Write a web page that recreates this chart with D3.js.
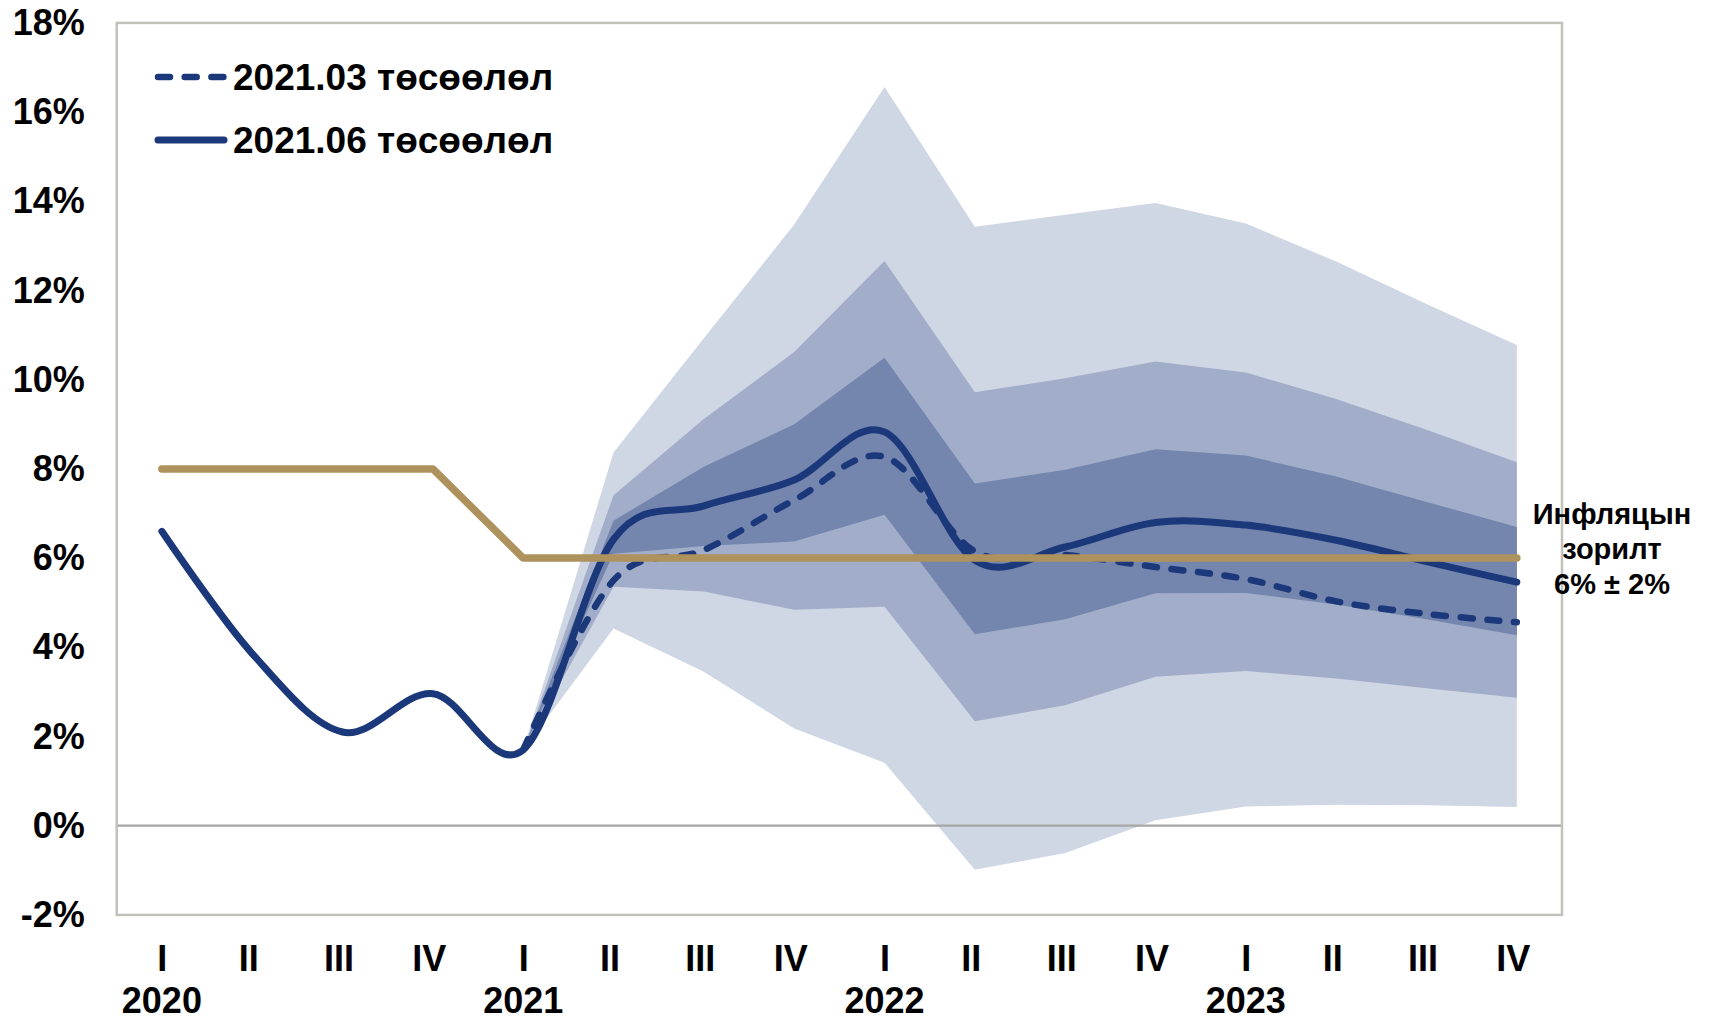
<!DOCTYPE html>
<meta charset="utf-8">
<style>
    body {
        margin: 0;
        background-color: #fff;
    }

    text {
        font-family: "Liberation Sans", Arial, Helvetica, sans-serif;
        font-weight: 700;
        fill: #000;
    }

    .axis text {
        font-size: 36px;
    }

    .xaxis text {
        font-size: 36px;
    }

    .legend text {
        font-size: 37px;
    }

    .note text {
        font-size: 29px;
    }
</style>

<body>
    <script src="https://d3js.org/d3.v7.min.js"></script>
    <script>

        // quarters 2020 I .. 2023 IV
        var quarters = ["I", "II", "III", "IV", "I", "II", "III", "IV",
            "I", "II", "III", "IV", "I", "II", "III", "IV"];
        var years = ["2020", "2021", "2022", "2023"];
        var yTicks = [-2, 0, 2, 4, 6, 8, 10, 12, 14, 16, 18];

        // 2021.06 forecast (solid)
        var june = [6.6, 3.86, 2.1, 2.96, 1.7, 6.42, 7.17, 7.75,
            8.83, 5.95, 6.25, 6.8, 6.74, 6.4, 5.92, 5.46];
        // 2021.03 forecast (dashed), starts 2021 I
        var march = [null, null, null, null, 1.7, 5.5, 6.18, 7.3,
            8.27, 6.15, 6.07, 5.8, 5.53, 5.03, 4.75, 4.56];
        // inflation target
        var target = [8, 8, 8, 8, 6, 6, 6, 6, 6, 6, 6, 6, 6, 6, 6, 6];

        // fan chart bands, from 2021 I
        var outerHi = [1.7, 8.37, 10.93, 13.48, 16.56, 13.43, 13.7, 13.96, 13.5, 12.65, 11.7, 10.78];
        var middleHi = [1.7, 7.41, 9.12, 10.62, 12.66, 9.72, 10.03, 10.41, 10.16, 9.57, 8.88, 8.15];
        var innerHi = [1.7, 6.84, 8.05, 9.0, 10.49, 7.67, 7.98, 8.44, 8.3, 7.83, 7.26, 6.7];
        var innerLo = [1.7, 6.1, 6.27, 6.37, 6.97, 4.29, 4.63, 5.21, 5.22, 4.96, 4.63, 4.27];
        var middleLo = [1.7, 5.36, 5.25, 4.84, 4.91, 2.34, 2.7, 3.34, 3.47, 3.3, 3.08, 2.87];
        var outerLo = [1.7, 4.42, 3.45, 2.18, 1.41, -0.99, -0.61, 0.12, 0.43, 0.47, 0.46, 0.42];
        var bandStart = 4;

        var width = 1709,
            height = 1021,
            plotL = 116.7,
            plotR = 1562,
            plotT = 22.9,
            plotB = 914.9;

        var navy = "#1b387b",
            gold = "#ae925d";

        var idx = d3.range(quarters.length);

        var x = d3.scalePoint()
            .domain(idx)
            .range([plotL, plotR])
            .padding(0.5);

        var y = d3.scaleLinear()
            .domain([-2, 18])
            .range([plotB, plotT]);

        var svg = d3.select("body").append("svg")
            .attr("width", width)
            .attr("height", height);

        // bands
        function band(lo, hi, color) {
            var rows = lo.map(function (d, i) { return { i: i + bandStart, lo: d, hi: hi[i] }; });
            var area = d3.area()
                .x(function (d) { return x(d.i); })
                .y0(function (d) { return y(d.lo); })
                .y1(function (d) { return y(d.hi); });
            svg.append("path")
                .datum(rows)
                .attr("fill", color)
                .attr("d", area);
        }
        band(outerLo, outerHi, "#cfd6e4");
        band(middleLo, middleHi, "#a2aec9");
        band(innerLo, innerHi, "#7485ae");

        // zero line
        svg.append("line")
            .attr("x1", plotL).attr("x2", plotR)
            .attr("y1", y(0)).attr("y2", y(0))
            .attr("stroke", "#a6a6a6")
            .attr("stroke-width", 2.2);

        // frame
        svg.append("rect")
            .attr("x", plotL).attr("y", plotT)
            .attr("width", plotR - plotL).attr("height", plotB - plotT)
            .attr("fill", "none")
            .attr("stroke", "#c2c2bb")
            .attr("stroke-width", 2.5);

        // y axis
        var yAxis = svg.append("g")
            .attr("class", "axis")
            .attr("transform", "translate(" + plotL + ",0)")
            .call(d3.axisLeft(y).tickValues(yTicks).tickSize(0).tickPadding(32)
                .tickFormat(function (d) { return d + "%"; }));
        yAxis.select(".domain").remove();
        yAxis.selectAll("text").attr("fill", "#000").attr("font-family", null).attr("font-size", null);

        // x axis
        var xAxis = svg.append("g")
            .attr("class", "xaxis")
            .attr("transform", "translate(0," + plotB + ")")
            .call(d3.axisBottom(x).tickSize(0).tickPadding(31)
                .tickFormat(function (d) { return quarters[d]; }));
        xAxis.select(".domain").remove();
        xAxis.selectAll(".tick text")
            .attr("fill", "#000").attr("font-family", null).attr("font-size", null)
            .attr("dx", function (d) { return quarters[d] === "I" ? 0 : -4; });

        xAxis.selectAll(".year")
            .data(years)
            .enter().append("text")
            .attr("class", "year")
            .attr("x", function (d, i) { return x(i * 4); })
            .attr("y", 1013 - plotB)
            .attr("text-anchor", "middle")
            .text(function (d) { return d; });

        // forecast lines
        var smooth = d3.line()
            .defined(function (d) { return d != null; })
            .x(function (d, i) { return x(i); })
            .y(function (d) { return y(d); })
            .curve(d3.curveCardinal.tension(0));

        svg.append("path")
            .datum(march)
            .attr("fill", "none")
            .attr("stroke", navy)
            .attr("stroke-width", 6.5)
            .attr("stroke-linecap", "round")
            .attr("stroke-dasharray", "12 14.7")
            .attr("d", smooth);

        svg.append("path")
            .datum(june)
            .attr("fill", "none")
            .attr("stroke", navy)
            .attr("stroke-width", 7)
            .attr("stroke-linecap", "round")
            .attr("d", smooth);

        svg.append("path")
            .datum(target)
            .attr("fill", "none")
            .attr("stroke", gold)
            .attr("stroke-width", 7.5)
            .attr("stroke-linecap", "round")
            .attr("stroke-linejoin", "round")
            .attr("d", d3.line()
                .x(function (d, i) { return x(i); })
                .y(function (d) { return y(d); }));

        // legend
        var legend = svg.append("g").attr("class", "legend");
        var items = [
            { label: "2021.03 төсөөлөл", dash: "12 14.7", w: 6.5, y: 77 },
            { label: "2021.06 төсөөлөл", dash: null, w: 7, y: 140 }
        ];
        items.forEach(function (d) {
            legend.append("line")
                .attr("x1", 158).attr("x2", 224)
                .attr("y1", d.y).attr("y2", d.y)
                .attr("stroke", navy)
                .attr("stroke-width", d.w)
                .attr("stroke-linecap", "round")
                .attr("stroke-dasharray", d.dash);
            legend.append("text")
                .attr("x", 233)
                .attr("y", d.y + 13)
                .text(d.label);
        });

        // target note
        var note = svg.append("g").attr("class", "note");
        ["Инфляцын", "зорилт", "6% ± 2%"].forEach(function (t, i) {
            note.append("text")
                .attr("x", 1612)
                .attr("y", 524 + i * 35)
                .attr("text-anchor", "middle")
                .text(t);
        });

    </script>
</body>
